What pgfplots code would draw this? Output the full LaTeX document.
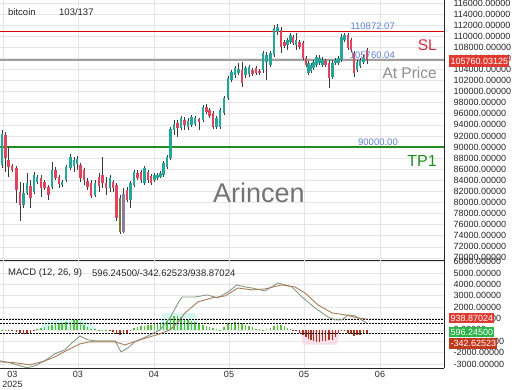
\documentclass[border=0pt]{standalone}
\usepackage{pgfplots}
\pgfplotsset{compat=1.18}
\usepackage{pgfplotstable}
\usepackage{fontspec}
\setmainfont{Liberation Sans}
\definecolor{upc}{HTML}{26A69A}
\definecolor{dnc}{HTML}{E0455F}
\definecolor{wickc}{HTML}{3A3A3A}
\definecolor{olivec}{HTML}{7F7444}
\definecolor{purplec}{HTML}{8E7E9E}
\definecolor{slred}{HTML}{E0283F}
\definecolor{tpgreen}{HTML}{228B22}
\definecolor{atgrey}{HTML}{A8A8A8}
\definecolor{lblue}{HTML}{5B7FD0}
\definecolor{gridc}{HTML}{E6E6E6}
\definecolor{macdc}{HTML}{869C82}
\definecolor{sigc}{HTML}{A67C5B}
\definecolor{hgreen}{HTML}{55C43A}
\definecolor{hred}{HTML}{A8321E}
\definecolor{boxred}{HTML}{E0392F}
\definecolor{boxgreen}{HTML}{2DB34A}
\definecolor{boxdred}{HTML}{C23A1C}
\definecolor{glowc}{HTML}{D6F6F2}
\definecolor{glowr}{HTML}{FBDDE8}
\newcommand{\sm}{\fontsize{9}{10}\selectfont}
\pgfplotsset{panel/.style={
  scale only axis, anchor=south west, width=444pt,
  xmin=0, xmax=444,
  axis x line*=bottom, axis y line*=right,
  axis line style={-, black!85, line width=0.8pt},
  major tick length=0pt,
  grid=major, grid style={gridc, line width=0.6pt},
  xtick={3,78,154,229,304,380},
  scaled y ticks=false,
  yticklabel style={font=\sm, text=black!85, anchor=west, xshift=6pt,
    /pgf/number format/.cd, fixed, fixed zerofill, precision=5, 1000 sep={}, assume math mode=true},
  xticklabel style={font=\sm, text=black!85},
},
wick/.style={draw=none, mark=none, forget plot, error bars/.cd, y dir=plus, y explicit, error mark=none, error bar style={line width=0.8pt, draw=wickc}},
body/.style={draw=none, mark=none, forget plot, error bars/.cd, y dir=plus, y explicit, error mark=none, error bar style={line width=2.2pt, draw=#1}}}
\begin{document}
\pgfplotstableread{
x o h l c
2 86760 93074 86219 92352
23.5 79544 83513 79003 81709
27 81709 85317 81348 83513
34 81889 85497 81528 84956
37 83693 84956 83332 84595
52 82791 87301 82430 85858
62 83152 84054 82791 83693
66 84054 86760 83693 86399
70.5 86219 88744 85858 88203
74 86580 88203 85497 87662
77 86940 88384 85858 87842
95 81348 84054 80987 83513
110 82611 84956 81889 84415
130.5 80446 83874 79003 83513
134 83152 85858 82791 85497
144.5 83513 86580 83152 86219
154.5 84054 85317 83693 84956
157.5 84415 85317 84054 84956
160.5 84595 85678 84415 85317
163.5 84956 87482 84595 87121
167 86399 88564 86038 88203
170.5 88023 93615 87662 93254
174 93074 94878 92172 94156
181 93434 95600 93074 95239
188 93615 95239 93074 94698
191.5 93976 95780 93615 95419
195 94156 95600 93796 95239
203 94878 97584 94517 97223
216.5 93615 95600 93254 95239
220 93615 97043 93254 96682
224 96141 99208 95780 98847
228 98847 102816 98486 102455
231.5 102094 103898 101733 103537
235 102996 104620 102455 104259
238.5 103357 105161 102996 104078
245.5 102996 104620 102455 104259
249 103176 104800 102635 104439
263 103898 107326 103357 106965
266.5 105341 107145 102094 106604
270.5 104800 107326 104439 106965
274 106604 112016 106243 111475
277.5 110753 112196 110212 111655
287.5 108408 109671 107506 109310
290.5 108949 110573 108588 110212
296 108408 110573 107506 109310
308.5 103357 105522 102996 105161
311 103718 105161 103357 104800
313.5 104259 105702 103898 105341
316.5 104800 106604 104439 106243
319.5 105161 106604 104800 106063
322.5 104800 106243 104439 105702
332.5 102635 105702 102274 105161
335.5 105161 106063 104800 105702
338.5 105161 106424 104800 106063
341.5 105702 110392 105341 109851
344.5 109310 110573 108949 110212
357 103898 105702 103537 105341
360 104620 106063 104259 105702
363.5 105341 106604 104980 106063
}\upc
\pgfplotstableread{
x o h l c
5.5 92172 92713 85497 88023
8.5 87662 90007 84595 86399
12 86580 86940 85497 85858
16.5 86219 86580 79905 82250
20 81889 83693 76658 79544
30.5 82972 84054 79003 80807
41 84415 84956 80987 82611
44.5 83693 84054 82250 82611
48.5 82791 83152 80446 81348
55.5 85858 86399 84054 84415
59 84595 84956 82611 83332
80.5 86760 87121 83693 84415
84 85858 86219 83152 84054
87.5 83874 84415 82250 82791
91 83513 84054 80807 81168
99 84595 85317 81889 82972
102.5 84956 88203 82611 83513
106 83513 84595 81348 82611
113 83693 84054 81889 82611
116.5 83152 83513 76658 77199
127 82250 82791 80085 80446
137.5 85317 85858 84054 84415
141 85497 85858 83513 84054
148 85497 85858 83513 84054
151 84776 85136 83152 83513
177.5 94337 94878 91811 93434
184.5 94878 95419 93074 93976
199 95058 95239 93074 94517
206.5 97223 97764 95960 96321
209.5 96682 97043 95239 95600
213 96141 96502 93254 93615
242 103898 105341 100831 101553
252.5 103898 104259 102816 103176
256 104259 104620 102996 103357
259.5 103718 104078 102996 103357
281 111114 111655 106965 108047
284.5 108949 109310 107867 108228
293 109851 110212 108408 108769
299.5 108949 109310 107686 108047
303 108769 109130 105702 106063
306 106063 106424 104439 104800
325.5 105522 105882 104439 104800
329 105161 105702 100651 102455
348 110212 110573 107506 107867
351 109310 109671 107145 107506
354 106965 107326 102635 103357
367 107506 107867 104980 105760
}\dnc
\pgfplotstableread{
x o h l c
120 80807 81348 74312 74673
}\olc
\pgfplotstableread{
x o h l c
123.5 74673 82611 74493 81528
}\puc
\pgfplotstableread{
x v
2 30
5.5 20
37 100
41 180
44.5 290
48.5 350
52 440
55.5 610
59 610
62 610
66 700
70.5 650
74 880
77 880
80.5 700
84 440
87.5 260
91 120
95 40
99 30
102.5 20
106 20
134 200
137.5 260
141 350
144.5 350
148 440
151 440
154.5 530
157.5 530
160.5 610
163.5 700
167 790
170.5 1050
174 1230
177.5 1230
181 1140
184.5 960
188 880
191.5 800
195 700
199 610
203 440
206.5 350
209.5 260
213 175
216.5 40
220 30
224 290
228 610
231.5 610
235 700
238.5 700
242 610
245.5 440
249 350
252.5 260
256 120
259.5 40
263 30
266.5 40
270.5 150
274 350
277.5 440
281 440
284.5 300
287.5 180
290.5 80
}\hpos
\pgfplotstableread{
x v
8.5 -30
12 -60
16.5 -200
20 -300
23.5 -350
27 -330
30.5 -250
34 -80
110 -30
113 -200
116.5 -350
120 -440
123.5 -400
127 -250
130.5 -60
293 -60
296 -120
299.5 -260
303 -440
306 -610
308.5 -790
311 -880
313.5 -960
316.5 -1050
319.5 -1050
322.5 -1000
325.5 -960
329 -880
332.5 -880
335.5 -610
338.5 -300
341.5 -60
344.5 -40
348 -260
351 -400
354 -520
357 -440
360 -440
363.5 -400
367 -342.6
}\hneg
\pgfplotstableread{
x v
38 0
45 700
60 900
80 1000
92 500
97 0
}\glowa
\pgfplotstableread{
x v
158 0
163 1500
195 1500
200 0
}\glowb
\pgfplotstableread{
x v
300 0
303 -1300
337 -1300
340 0
}\glowc
\pgfplotstableread{
x y
0 110872
444 110872
}\slline
\pgfplotstableread{
x y
0 105760
444 105760
}\atline
\pgfplotstableread{
x y
0 90000
444 90000
}\tpline
\begin{tikzpicture}
\useasboundingbox (0pt,0pt) rectangle (520pt,390pt);
\begin{axis}[panel, at={(0pt,130pt)}, height=260pt,
  ymin=69622, ymax=116526,
  ytick={70000,72000,74000,76000,78000,80000,82000,84000,86000,88000,90000,92000,94000,96000,98000,100000,102000,104000,106000,108000,110000,112000,114000,116000},
  xticklabels={}]
\addplot+[no marks, solid, color=red!85!black, line width=1.5pt] table[x=x, y=y] {\slline};
\addplot+[no marks, solid, color=gray!75, line width=1.8pt] table[x=x, y=y] {\atline};
\addplot+[no marks, solid, color=tpgreen, line width=1.1pt] table[x=x, y=y] {\tpline};
% wicks
\addplot[wick] table[x=x, y=l, y error plus expr=\thisrow{h}-\thisrow{l}] {\upc};
\addplot[wick] table[x=x, y=l, y error plus expr=\thisrow{h}-\thisrow{l}] {\dnc};
\addplot[wick] table[x=x, y=l, y error plus expr=\thisrow{h}-\thisrow{l}] {\olc};
\addplot[wick] table[x=x, y=l, y error plus expr=\thisrow{h}-\thisrow{l}] {\puc};
% bodies
\addplot[body=upc] table[x=x, y=o, y error plus expr=\thisrow{c}-\thisrow{o}] {\upc};
\addplot[body=dnc] table[x=x, y=c, y error plus expr=\thisrow{o}-\thisrow{c}] {\dnc};
\addplot[body=olivec] table[x=x, y=c, y error plus expr=\thisrow{o}-\thisrow{c}] {\olc};
\addplot[body=purplec] table[x=x, y=o, y error plus expr=\thisrow{c}-\thisrow{o}] {\puc};
\end{axis}
\begin{axis}[panel, at={(0pt,22pt)}, height=108pt,
  ymin=-3350, ymax=6140,
  ytick={-3000,-2000,-1000,0,1000,2000,3000,4000,5000,6000},
  xticklabels={,03,04,05,05,06},
  extra x ticks={12.5}, extra x tick labels={03\\2025},
  extra x tick style={grid=none, xticklabel style={align=center, font=\fontsize{9}{9.5}\selectfont}}]
\addplot[draw=none, fill=glowc] table[x=x, y=v] {\glowa} \closedcycle;
\addplot[draw=none, fill=glowc] table[x=x, y=v] {\glowb} \closedcycle;
\addplot[draw=none, fill=glowr] table[x=x, y=v] {\glowc} \closedcycle;
\addplot[ycomb, draw=hgreen, line width=1.5pt] table[x=x, y=v] {\hpos};
\addplot[ycomb, draw=hred, line width=1.5pt] table[x=x, y=v] {\hneg};
\addplot[black, line width=1pt, dash pattern=on 1.5pt off 1.5pt] coordinates {(0,938.87024) (444,938.87024)};
\addplot[black, line width=1pt, dash pattern=on 1.5pt off 1.5pt] coordinates {(0,596.245) (444,596.245)};
\addplot[black, line width=1pt, dash pattern=on 1.5pt off 1.5pt] coordinates {(0,-342.62523) (444,-342.62523)};
\addplot[draw=macdc, line width=0.9pt] coordinates {(0,-2720) (10,-2890) (20,-3160) (27,-3330) (35,-3160) (43,-2810) (55,-2100) (65,-1750) (72,-1140) (80,-530) (88,-880) (95,-960) (105,-960) (115,-960) (121,-1930) (128,-1580) (135,-1050) (150,-440) (160,0) (170,1050) (177,2190) (182,2890) (188,2890) (195,2890) (207,3070) (218,2810) (228,3330) (237,3950) (245,3770) (252,3680) (265,3420) (278,4120) (292,3770) (302,2890) (315,1930) (328,1140) (335,880) (342,880) (348,1320) (355,1230) (367,596)};
\addplot[draw=sigc, line width=0.9pt] coordinates {(0,-2810) (15,-2890) (30,-3070) (45,-2720) (55,-2370) (68,-1750) (80,-1230) (90,-1050) (115,-1050) (125,-1320) (137,-960) (150,-610) (160,-350) (170,0) (178,700) (185,1490) (198,2460) (212,2810) (225,2980) (238,3680) (252,3510) (265,3600) (282,3950) (295,3770) (305,3240) (318,2190) (332,1490) (345,1320) (358,1050) (367,939)};
\end{axis}
% texts
\node[anchor=west, font=\fontsize{9.5}{11}\selectfont, text=black!85, inner sep=0] at (8pt,378pt) {bitcoin};
\node[anchor=west, font=\fontsize{9.5}{11}\selectfont, text=black!85, inner sep=0] at (59pt,378pt) {103/137};
\node[anchor=east, font=\fontsize{9.5}{11}\selectfont, text=lblue, inner sep=0] at (395pt,364pt) {110872.07};
\node[anchor=east, font=\fontsize{9.5}{11}\selectfont, text=lblue, inner sep=0] at (395pt,335pt) {105760.04};
\node[anchor=east, font=\fontsize{9.5}{11}\selectfont, text=lblue, inner sep=0] at (398pt,248pt) {90000.00};
\node[anchor=east, font=\fontsize{15.5}{17}\selectfont, text=slred, inner sep=0] at (437pt,345pt) {SL};
\node[anchor=east, font=\fontsize{15.5}{17}\selectfont, text=atgrey!85!black, inner sep=0] at (437pt,317pt) {At Price};
\node[anchor=east, font=\fontsize{16}{18}\selectfont, text=tpgreen, inner sep=0] at (437pt,229pt) {TP1};
\node[font=\fontsize{27}{30}\selectfont, text=black!55, inner sep=0] at (259pt,197pt) {Arincen};
\node[anchor=west, font=\sm, fill=boxred, text=white, inner xsep=1.3pt, inner ysep=0pt, minimum height=12pt] at (449pt,329pt) {105760.03125};
\node[anchor=west, font=\fontsize{9.5}{11}\selectfont, text=black!85, inner sep=0] at (8pt,117pt) {MACD (12, 26, 9)};
\node[anchor=west, font=\fontsize{9.5}{11}\selectfont, text=black!85, inner sep=0] at (92pt,117pt) {596.24500/-342.62523/938.87024};
\node[anchor=west, font=\sm, fill=boxred, text=white, inner xsep=1.3pt, inner ysep=0pt, minimum height=10pt] at (449pt,71.5pt) {938.87024};
\node[anchor=west, font=\sm, fill=boxgreen, text=white, inner xsep=1.3pt, inner ysep=0pt, minimum height=10pt] at (449pt,57.5pt) {596.24500};
\node[anchor=west, font=\sm, fill=boxdred, text=white, inner xsep=1.3pt, inner ysep=0pt, minimum height=11pt] at (449pt,46.5pt) {-342.62523};
\end{tikzpicture}
\end{document}
